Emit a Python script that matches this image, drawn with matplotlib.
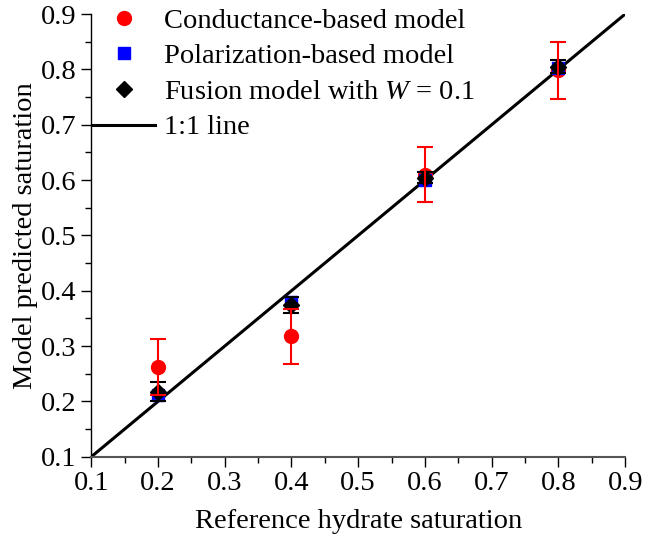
import numpy as np
import matplotlib
matplotlib.use("Agg")
import matplotlib.pyplot as plt
from matplotlib.ticker import MultipleLocator

plt.rcParams['font.family'] = ['Liberation Serif', 'DejaVu Serif']
plt.rcParams['mathtext.fontset'] = 'custom'
plt.rcParams['mathtext.it'] = 'Liberation Serif:italic'
plt.rcParams['mathtext.rm'] = 'Liberation Serif'

# Data
ref_sat = [0.2, 0.4, 0.6, 0.8]
cond_pred = [0.262, 0.318, 0.610, 0.798]
cond_err = [0.050, 0.050, 0.050, 0.051]
pol_pred = [0.212, 0.380, 0.600, 0.803]
fus_pred = [0.218, 0.374, 0.604, 0.805]
fus_err = [0.017, 0.015, 0.010, 0.012]
line_1to1 = [0.1, 0.9]

FS = 20.5

fig = plt.figure(figsize=(6.56, 5.4), dpi=100)
ax = fig.add_axes([0.139, 0.154, 0.814, 0.820])

# 1:1 line
ax.plot(line_1to1, line_1to1, color='black', lw=2.2, zorder=2, label='1:1 line')

# markers
ax.plot(ref_sat, cond_pred, 'o', color='red', ms=10, zorder=3,
        label='Conductance-based model')
ax.plot(ref_sat, pol_pred, 's', color='blue', ms=8.5, zorder=4,
        label='Polarization-based model')
ax.plot(ref_sat, fus_pred, 'D', color='black', ms=8, zorder=5,
        label='Fusion model with $W$ = 0.1')

# error bars drawn over the markers
ax.errorbar(ref_sat, fus_pred, yerr=fus_err, fmt='none', ecolor='black',
            elinewidth=1.5, capsize=6, capthick=1.5, zorder=6)
ax.errorbar(ref_sat, cond_pred, yerr=cond_err, fmt='none', ecolor='red',
            elinewidth=1.5, capsize=6, capthick=1.5, zorder=7)

ax.set_xlim(0.1, 0.9)
ax.set_ylim(0.1, 0.9)
ax.xaxis.set_major_locator(MultipleLocator(0.1))
ax.yaxis.set_major_locator(MultipleLocator(0.1))
ax.xaxis.set_minor_locator(MultipleLocator(0.05))
ax.yaxis.set_minor_locator(MultipleLocator(0.05))
ax.tick_params(which='major', direction='out', length=7, width=1, labelsize=FS)
ax.tick_params(which='minor', direction='out', length=4, width=1)
ax.xaxis.set_major_formatter(plt.FuncFormatter(lambda v, p: f"{v:.1f}"))
ax.yaxis.set_major_formatter(plt.FuncFormatter(lambda v, p: f"{v:.1f}"))

for s in ['top', 'right']:
    ax.spines[s].set_visible(False)
ax.spines['bottom'].set_color('#555555')
ax.spines['bottom'].set_linewidth(1.5)
ax.spines['left'].set_linewidth(1.0)

ax.set_xlabel('Reference hydrate saturation', fontsize=FS, labelpad=9)
ax.set_ylabel('Model predicted saturation', fontsize=FS, labelpad=2)

h, l = ax.get_legend_handles_labels()
order = [1, 2, 3, 0]
ax.legend([h[i] for i in order], [l[i] for i in order], loc='upper left',
          bbox_to_anchor=(-0.019, 1.04), frameon=False, fontsize=FS,
          handlelength=2.2, handletextpad=0.3, labelspacing=0.34,
          borderaxespad=0.0)

fig.savefig('out.png', dpi=100)
